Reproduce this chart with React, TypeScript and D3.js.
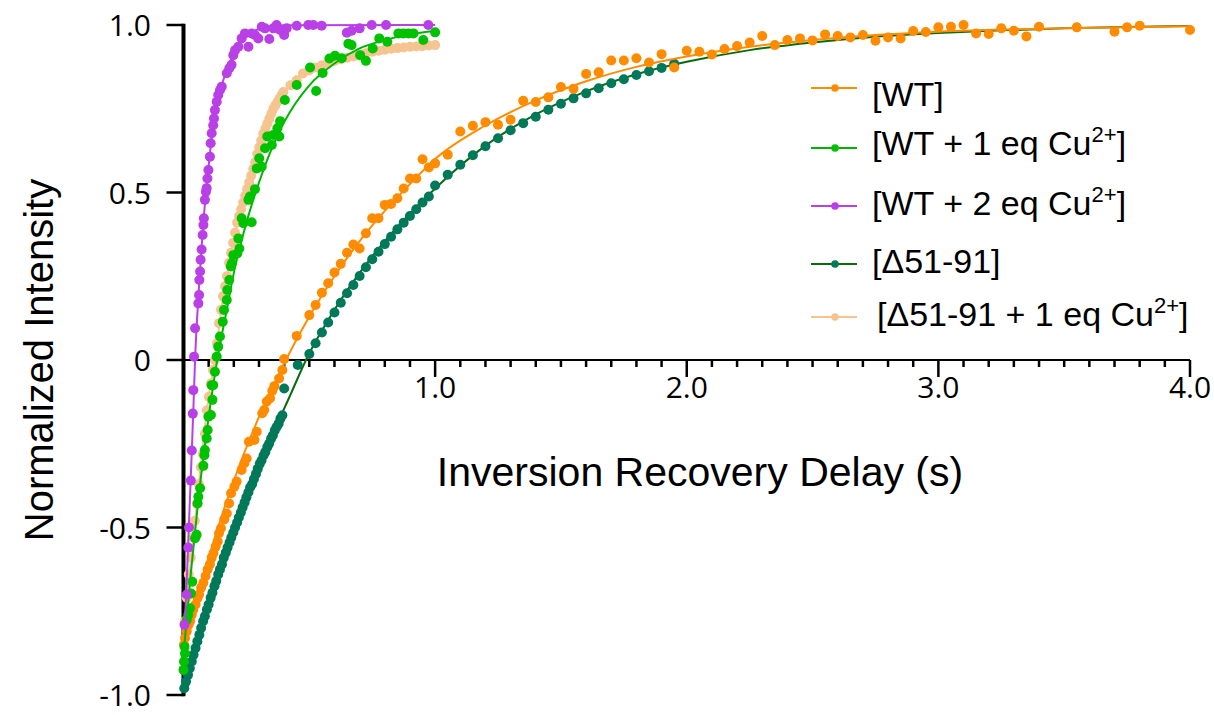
import React from 'react';
import * as d3 from 'd3';

type Pt = [number, number];

// ---- data: [delay (s), normalized intensity] ----

const wtPoints: Pt[] = [
  [0.002, -0.85], [0.006, -0.83], [0.013, -0.81], [0.02, -0.79], [0.026, -0.78], [0.033, -0.76],
  [0.039, -0.745], [0.048, -0.73], [0.056, -0.71], [0.062, -0.7], [0.07, -0.68], [0.079, -0.665],
  [0.088, -0.645], [0.096, -0.625], [0.105, -0.61], [0.112, -0.59], [0.119, -0.577], [0.128, -0.557],
  [0.136, -0.542], [0.141, -0.517], [0.149, -0.502], [0.162, -0.476], [0.172, -0.458], [0.181, -0.428],
  [0.189, -0.398], [0.202, -0.378], [0.211, -0.363], [0.231, -0.328], [0.242, -0.308], [0.251, -0.294],
  [0.26, -0.244], [0.282, -0.239], [0.291, -0.214], [0.313, -0.159], [0.321, -0.149], [0.331, -0.124],
  [0.344, -0.114], [0.353, -0.092], [0.361, -0.078], [0.38, -0.055], [0.393, -0.03], [0.4, 0.003],
  [0.45, 0.072], [0.5, 0.134], [0.525, 0.164], [0.55, 0.201], [0.575, 0.229], [0.6, 0.261],
  [0.625, 0.287], [0.65, 0.32], [0.675, 0.345], [0.7, 0.333], [0.725, 0.378], [0.75, 0.423],
  [0.775, 0.423], [0.8, 0.463], [0.825, 0.466], [0.85, 0.483], [0.875, 0.512], [0.9, 0.542],
  [0.925, 0.542], [0.95, 0.599], [0.975, 0.575], [1.0, 0.587], [1.05, 0.613], [1.1, 0.682],
  [1.15, 0.699], [1.2, 0.71], [1.25, 0.702], [1.3, 0.717], [1.35, 0.774], [1.4, 0.77],
  [1.45, 0.784], [1.5, 0.815], [1.55, 0.81], [1.6, 0.854], [1.65, 0.859], [1.7, 0.894],
  [1.75, 0.894], [1.8, 0.901], [1.85, 0.888], [1.9, 0.913], [1.95, 0.873], [2.0, 0.923],
  [2.05, 0.92], [2.1, 0.912], [2.15, 0.928], [2.2, 0.937], [2.25, 0.948], [2.3, 0.967],
  [2.35, 0.94], [2.4, 0.955], [2.45, 0.96], [2.5, 0.954], [2.55, 0.972], [2.6, 0.967],
  [2.65, 0.963], [2.7, 0.97], [2.75, 0.953], [2.8, 0.963], [2.85, 0.96], [2.9, 0.982],
  [2.95, 0.979], [3.0, 0.993], [3.05, 0.995], [3.1, 1.0], [3.15, 0.975], [3.2, 0.973],
  [3.25, 0.99], [3.3, 0.983], [3.35, 0.966], [3.4, 0.995], [3.55, 0.993], [3.7, 0.98],
  [3.75, 0.993], [3.8, 0.998], [4.0, 0.985],
];
const wtFit: Pt[] = [
  [0, -0.85], [0.05, -0.72], [0.1, -0.59], [0.15, -0.47], [0.2, -0.36], [0.3, -0.17], [0.4, -0.01],
  [0.5, 0.13], [0.6, 0.25], [0.7, 0.355], [0.8, 0.445], [0.9, 0.525], [1.0, 0.6], [1.2, 0.7],
  [1.4, 0.775], [1.6, 0.832], [1.8, 0.875], [2.0, 0.906], [2.25, 0.935], [2.5, 0.955],
  [2.75, 0.97], [3.0, 0.98], [3.5, 0.99], [4.0, 0.996],
];

const cu1Points: Pt[] = [
  [0.0, -0.925], [0.002, -0.9], [0.004, -0.856], [0.006, -0.876], [0.013, -0.776], [0.019, -0.761],
  [0.026, -0.741], [0.03, -0.697], [0.035, -0.662], [0.046, -0.532], [0.052, -0.522], [0.056, -0.428],
  [0.059, -0.408], [0.066, -0.383], [0.079, -0.316], [0.083, -0.284], [0.085, -0.269], [0.092, -0.234],
  [0.096, -0.209], [0.099, -0.169], [0.109, -0.164], [0.112, -0.075], [0.115, -0.119], [0.118, -0.075],
  [0.125, -0.035], [0.132, 0.01], [0.138, 0.04], [0.145, 0.07], [0.156, 0.114], [0.161, 0.149],
  [0.172, 0.179], [0.174, 0.209], [0.182, 0.239], [0.188, 0.279], [0.192, 0.289], [0.198, 0.313],
  [0.214, 0.318], [0.218, 0.363], [0.222, 0.333], [0.231, 0.423], [0.238, 0.408], [0.258, 0.478],
  [0.264, 0.488], [0.271, 0.411], [0.284, 0.51], [0.291, 0.572], [0.301, 0.602], [0.311, 0.577],
  [0.324, 0.632], [0.333, 0.667], [0.351, 0.642], [0.357, 0.672], [0.373, 0.692], [0.381, 0.667],
  [0.384, 0.713], [0.403, 0.776], [0.45, 0.821], [0.503, 0.873], [0.527, 0.803], [0.553, 0.857],
  [0.58, 0.9], [0.602, 0.908], [0.629, 0.901], [0.655, 0.944], [0.668, 0.94], [0.702, 0.91],
  [0.725, 0.893], [0.752, 0.93], [0.778, 0.96], [0.81, 0.95], [0.854, 0.975], [0.874, 0.975],
  [0.894, 0.975], [0.914, 0.975], [0.953, 0.955], [1.0, 0.978],
];
const cu1Fit: Pt[] = [
  [0, -0.88], [0.03, -0.63], [0.06, -0.41], [0.1, -0.17], [0.134, 0], [0.172, 0.15], [0.2, 0.26],
  [0.25, 0.41], [0.3, 0.53], [0.35, 0.63], [0.4, 0.71], [0.5, 0.82], [0.6, 0.885], [0.7, 0.93],
  [0.8, 0.955], [0.9, 0.972], [1.0, 0.983],
];

const cu2Points: Pt[] = [
  [0.004, -0.79], [0.013, -0.7], [0.019, -0.56], [0.022, -0.5], [0.029, -0.36], [0.033, -0.27],
  [0.037, -0.16], [0.039, -0.09], [0.042, 0.01], [0.046, 0.095], [0.059, 0.169], [0.062, 0.194],
  [0.063, 0.239], [0.066, 0.264], [0.068, 0.299], [0.072, 0.33], [0.076, 0.373], [0.079, 0.403],
  [0.081, 0.423], [0.085, 0.478], [0.089, 0.502], [0.092, 0.513], [0.095, 0.542], [0.099, 0.567],
  [0.105, 0.607], [0.108, 0.647], [0.112, 0.677], [0.118, 0.701], [0.121, 0.721], [0.125, 0.746],
  [0.132, 0.771], [0.138, 0.791], [0.145, 0.806], [0.152, 0.816], [0.172, 0.856], [0.182, 0.871],
  [0.191, 0.881], [0.198, 0.91], [0.205, 0.925], [0.218, 0.935], [0.231, 0.96], [0.244, 0.975],
  [0.258, 0.935], [0.271, 0.975], [0.284, 0.97], [0.297, 0.96], [0.311, 0.995], [0.324, 0.99],
  [0.341, 0.958], [0.357, 0.99], [0.37, 1.0], [0.384, 0.985], [0.4, 0.97], [0.41, 0.99],
  [0.45, 0.998], [0.496, 1.0], [0.516, 1.0], [0.549, 0.998], [0.649, 0.977], [0.668, 0.983],
  [0.7, 0.99], [0.748, 1.0], [0.805, 1.0], [0.973, 1.0],
];
const cu2Fit: Pt[] = [
  [0.004, -0.8], [0.012, -0.68], [0.02, -0.52], [0.03, -0.33], [0.04, -0.13], [0.046, 0],
  [0.06, 0.2], [0.075, 0.37], [0.089, 0.5], [0.1, 0.58], [0.118, 0.7], [0.14, 0.785],
  [0.158, 0.835], [0.18, 0.88], [0.211, 0.93], [0.25, 0.968], [0.3, 0.988], [0.35, 0.996],
  [0.4, 0.999], [1.0, 1.0],
];

const delPoints: Pt[] = [
  [0.003, -0.98], [0.01, -0.96], [0.018, -0.94], [0.025, -0.92], [0.033, -0.9], [0.04, -0.88],
  [0.048, -0.86], [0.055, -0.84], [0.063, -0.82], [0.07, -0.8], [0.078, -0.78], [0.085, -0.765],
  [0.093, -0.745], [0.1, -0.73], [0.108, -0.71], [0.115, -0.695], [0.123, -0.675], [0.13, -0.66],
  [0.138, -0.64], [0.145, -0.625], [0.153, -0.61], [0.16, -0.59], [0.168, -0.575], [0.175, -0.56],
  [0.183, -0.545], [0.19, -0.53], [0.198, -0.515], [0.205, -0.5], [0.213, -0.485], [0.22, -0.47],
  [0.228, -0.455], [0.235, -0.44], [0.243, -0.425], [0.25, -0.41], [0.258, -0.395], [0.265, -0.38],
  [0.273, -0.37], [0.28, -0.355], [0.288, -0.34], [0.295, -0.325], [0.303, -0.31], [0.31, -0.3],
  [0.318, -0.285], [0.325, -0.275], [0.333, -0.26], [0.34, -0.25], [0.348, -0.235], [0.355, -0.225],
  [0.363, -0.21], [0.37, -0.2], [0.378, -0.19], [0.385, -0.175], [0.393, -0.165], [0.4, -0.085],
  [0.454, -0.015], [0.5, 0.018], [0.525, 0.05], [0.55, 0.082], [0.575, 0.112], [0.6, 0.142],
  [0.625, 0.171], [0.65, 0.199], [0.675, 0.224], [0.7, 0.251], [0.725, 0.277], [0.75, 0.301],
  [0.775, 0.323], [0.8, 0.346], [0.825, 0.368], [0.85, 0.39], [0.875, 0.41], [0.9, 0.43],
  [0.925, 0.45], [0.95, 0.47], [0.975, 0.488], [1.0, 0.521], [1.05, 0.553], [1.1, 0.583],
  [1.15, 0.611], [1.2, 0.638], [1.25, 0.662], [1.3, 0.686], [1.35, 0.707], [1.4, 0.726],
  [1.45, 0.747], [1.5, 0.765], [1.55, 0.781], [1.6, 0.796], [1.65, 0.811], [1.7, 0.826],
  [1.75, 0.838], [1.8, 0.851], [1.85, 0.862], [1.9, 0.872], [1.95, 0.884],
];
const delFit: Pt[] = [
  [0, -0.98], [0.1, -0.72], [0.2, -0.5], [0.3, -0.3], [0.4, -0.145], [0.5, 0.02], [0.6, 0.15],
  [0.7, 0.26], [0.8, 0.355], [0.9, 0.437], [1.0, 0.512], [1.2, 0.64], [1.4, 0.733], [1.6, 0.802],
  [1.8, 0.853], [2.0, 0.89], [2.25, 0.925], [2.5, 0.948], [2.75, 0.965], [3.0, 0.976],
  [3.25, 0.984], [3.5, 0.99], [3.75, 0.994], [4.0, 0.997],
];

const delCuPoints: Pt[] = [
  [0.005, -0.78], [0.013, -0.71], [0.021, -0.64], [0.029, -0.59], [0.037, -0.53], [0.045, -0.48],
  [0.053, -0.43], [0.061, -0.37], [0.069, -0.32], [0.077, -0.28], [0.085, -0.22], [0.093, -0.15],
  [0.101, -0.11], [0.109, -0.07], [0.117, -0.03], [0.125, 0.0], [0.133, 0.05], [0.141, 0.11],
  [0.149, 0.15], [0.157, 0.19], [0.165, 0.22], [0.173, 0.25], [0.181, 0.29], [0.189, 0.32],
  [0.197, 0.35], [0.205, 0.38], [0.213, 0.41], [0.221, 0.43], [0.229, 0.45], [0.237, 0.47],
  [0.245, 0.49], [0.253, 0.51], [0.261, 0.53], [0.269, 0.55], [0.277, 0.57], [0.285, 0.59],
  [0.293, 0.615], [0.301, 0.635], [0.309, 0.655], [0.317, 0.675], [0.325, 0.69], [0.333, 0.705],
  [0.341, 0.72], [0.349, 0.735], [0.357, 0.75], [0.365, 0.76], [0.373, 0.77], [0.381, 0.78],
  [0.389, 0.79], [0.397, 0.8], [0.425, 0.82], [0.45, 0.835], [0.475, 0.855], [0.5, 0.865],
  [0.525, 0.873], [0.55, 0.88], [0.575, 0.886], [0.6, 0.893], [0.625, 0.898], [0.65, 0.902],
  [0.675, 0.906], [0.7, 0.91], [0.725, 0.916], [0.75, 0.92], [0.775, 0.923], [0.8, 0.926],
  [0.825, 0.929], [0.85, 0.931], [0.875, 0.933], [0.9, 0.935], [0.925, 0.936], [0.95, 0.937],
  [0.975, 0.939], [1.0, 0.94],
];
const delCuFit: Pt[] = [
  [0.005, -0.78], [0.05, -0.45], [0.1, -0.11], [0.125, 0], [0.15, 0.15], [0.2, 0.36], [0.25, 0.5],
  [0.3, 0.63], [0.35, 0.735], [0.4, 0.8], [0.5, 0.865], [0.6, 0.893], [0.7, 0.91], [0.8, 0.926],
  [0.9, 0.935], [1.0, 0.94],
];

const xTickLabels = ['1.0', '2.0', '3.0', '4.0'];
const yTickLabels = ['1.0', '0.5', '0', '-0.5', '-1.0'];

const series = [
  { name: 'WT', main: '[WT]', sup: '', tail: '', dot: '#FF8C00', line: '#FF8C00', points: wtPoints, fit: wtFit },
  { name: 'WT+1', main: '[WT + 1 eq Cu', sup: '2+', tail: ']', dot: '#00C200', line: '#00B400', points: cu1Points, fit: cu1Fit },
  { name: 'WT+2', main: '[WT + 2 eq Cu', sup: '2+', tail: ']', dot: '#B93FE6', line: '#B93FE6', points: cu2Points, fit: cu2Fit },
  { name: 'del', main: '[Δ51-91]', sup: '', tail: '', dot: '#00795A', line: '#0B6B0B', points: delPoints, fit: delFit },
  { name: 'delCu', main: '[Δ51-91 + 1 eq Cu', sup: '2+', tail: ']', dot: '#F5C491', line: '#F5C491', points: delCuPoints, fit: delCuFit },
];

// drawing order (back to front)
const drawOrder = ['delCu', 'del', 'WT', 'WT+1', 'WT+2'];

const W = 1214;
const H = 715;
const titleFont = '"Liberation Sans", Arial, sans-serif';
const tickFont = '"Open Sans", sans-serif';

const App = () => {
  const x = d3.scaleLinear().domain([0, 4]).range([183.5, 1190]);
  const y = d3.scaleLinear().domain([-1, 1]).range([695, 25]);

  const line = d3.line<Pt>()
    .x(d => x(d[0]))
    .y(d => y(d[1]))
    .curve(d3.curveMonotoneX);

  const minorTicks = d3.range(1, 41).map(i => i / 10);
  const yTicks = yTickLabels.map(Number);
  const legendY = [88, 148, 206, 264, 317];
  const legendTextY = [106, 155, 215, 273, 326];

  return (
    <svg width={W} height={H} style={{ position: 'absolute', left: 0, top: 0, background: '#fff' }}>
      <rect width={W} height={H} fill="#fff" />

      {/* axes */}
      <line x1={x(0)} x2={x(0)} y1={y(1) - 1.2} y2={y(-1) + 1.2} stroke="#000" strokeWidth={4} />
      {yTicks.map(v => (
        <line key={v} x1={x(0) - 17} x2={x(0)} y1={y(v)} y2={y(v)} stroke="#000" strokeWidth={2.5} />
      ))}
      {yTickLabels.map(s => (
        <text key={s} x={151} y={y(Number(s)) + 11} textAnchor="end" fontFamily={tickFont} fontSize={30} fill="#000">
          {s}
        </text>
      ))}
      <line x1={x(0)} x2={x(4)} y1={y(0)} y2={y(0)} stroke="#000" strokeWidth={2.2} />
      {minorTicks.map(t => {
        const major = Math.abs(t - Math.round(t)) < 1e-9;
        return (
          <line key={t} x1={x(t)} x2={x(t)} y1={y(0)} y2={y(0) + (major ? 17 : 7)} stroke="#000" strokeWidth={2.5} />
        );
      })}
      {xTickLabels.map(s => (
        <text key={s} x={x(Number(s))} y={398} textAnchor="middle" fontFamily={tickFont} fontSize={30} fill="#000">
          {s}
        </text>
      ))}

      <text x={700} y={486} textAnchor="middle" fontFamily={titleFont} fontSize={41} fill="#000">
        Inversion Recovery Delay (s)
      </text>
      <text transform="translate(53,360) rotate(-90)" textAnchor="middle" fontFamily={titleFont} fontSize={40} fill="#000">
        Normalized Intensity
      </text>

      {/* data */}
      {drawOrder.map(key => {
        const s = series.find(d => d.name === key)!;
        return (
          <g key={key}>
            <path d={line(s.fit) || ''} fill="none" stroke={s.line} strokeWidth={2} />
            {s.points.map((p, i) => (
              <circle key={i} cx={x(p[0])} cy={y(p[1])} r={5} fill={s.dot} />
            ))}
          </g>
        );
      })}

      {/* legend */}
      {series.map((s, i) => (
        <g key={s.name}>
          <line x1={811} x2={857} y1={legendY[i]} y2={legendY[i]} stroke={s.line} strokeWidth={2} />
          <circle cx={835} cy={legendY[i]} r={3.8} fill={s.dot} />
          <text x={i === 4 ? 877 : 872} y={legendTextY[i]} fontFamily={titleFont} fontSize={34} fill="#000">
            {s.main}
            {s.sup && (
              <tspan fontSize={22} dy={-13}>{s.sup}</tspan>
            )}
            {s.tail && (
              <tspan fontSize={34} dy={13}>{s.tail}</tspan>
            )}
          </text>
        </g>
      ))}
    </svg>
  );
};

export default App;
